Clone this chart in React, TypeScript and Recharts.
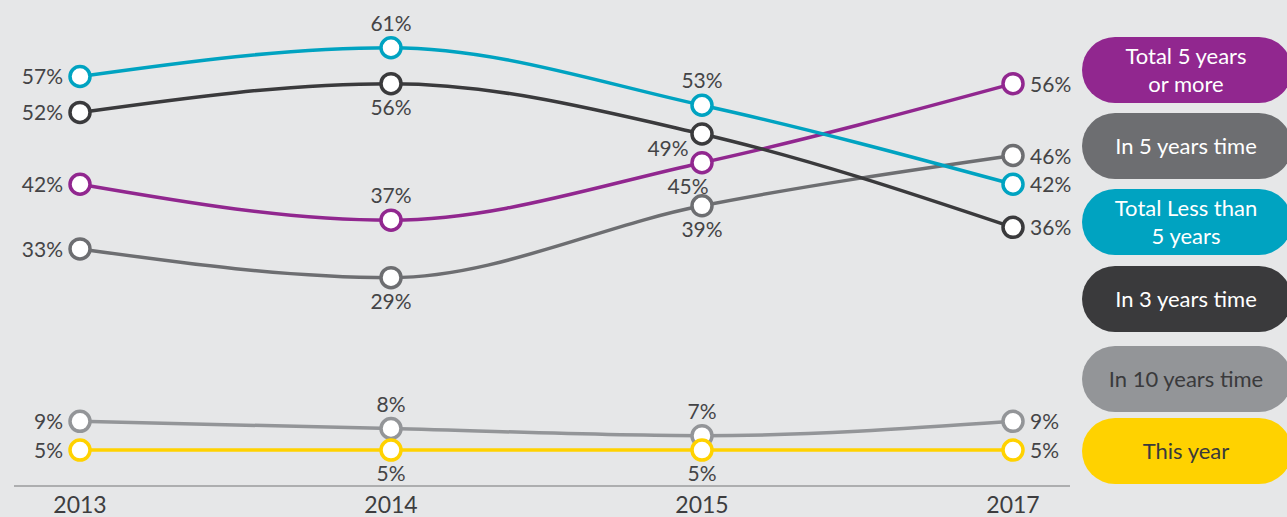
import { LineChart, Line, XAxis, YAxis } from "recharts";

const years = ["2013", "2014", "2015", "2017"];
const totalFivePlus = [42, 37, 45, 56];
const inFiveYears = [33, 29, 39, 46];
const totalLessThanFive = [57, 61, 53, 42];
const inThreeYears = [52, 56, 49, 36];
const inTenYears = [9, 8, 7, 9];
const thisYear = [5, 5, 5, 5];

const seriesNames = [
  "Total 5 years\nor more",
  "In 5 years time",
  "Total Less than\n5 years",
  "In 3 years time",
  "In 10 years time",
  "This year",
];

const series = [
  { key: "fivePlus", values: totalFivePlus, color: "#91278f", text: "#ffffff" },
  { key: "in5", values: inFiveYears, color: "#6d6e71", text: "#ffffff" },
  { key: "lessFive", values: totalLessThanFive, color: "#00a3c1", text: "#ffffff" },
  { key: "in3", values: inThreeYears, color: "#3a3a3c", text: "#ffffff" },
  { key: "in10", values: inTenYears, color: "#939598", text: "#3a3a3c" },
  { key: "now", values: thisYear, color: "#ffd200", text: "#3a3a3c" },
].map((s, i) => ({ ...s, name: seriesNames[i] }));

const data = years.map((year, i) => {
  const row: Record<string, string | number> = { year };
  series.forEach((s) => (row[s.key] = s.values[i]));
  return row;
});

// where each point's label sits, per series
const labelPos: Record<string, string[]> = {
  fivePlus: ["left", "above", "purple15", "right"],
  in5: ["left", "below", "below", "right"],
  lessFive: ["left", "above", "above", "right"],
  in3: ["left", "below", "black15", "right"],
  in10: ["left", "above", "above", "right"],
  now: ["left", "below", "below", "right"],
};

const pillTops = [37, 113, 189, 266, 346, 418];

const makeLabel = (key: string) => (props: any) => {
  const { x, y, value, index } = props;
  const pos = labelPos[key][index];
  let tx = x;
  let ty = y + 8;
  let anchor: "start" | "middle" | "end" = "middle";
  if (pos === "left") {
    tx = x - 17;
    anchor = "end";
  } else if (pos === "right") {
    tx = x + 17;
    anchor = "start";
  } else if (pos === "above") {
    ty = y - 17;
  } else if (pos === "below") {
    ty = y + 31;
  } else if (pos === "black15") {
    tx = x - 34;
    ty = y + 22;
  } else if (pos === "purple15") {
    tx = x - 14;
    ty = y + 31;
  }
  return (
    <text
      key={`${key}-${index}`}
      x={tx}
      y={ty}
      textAnchor={anchor}
      fontSize={21}
      fill="#444446"
    >
      {value}%
    </text>
  );
};

export default function App() {
  return (
    <div
      style={{
        position: "absolute",
        left: 0,
        top: 0,
        width: 1287,
        height: 517,
        overflow: "hidden",
        background: "#e6e7e8",
        fontFamily: "Lato, 'Open Sans', sans-serif",
      }}
    >
      <LineChart
        width={1287}
        height={517}
        data={data}
        margin={{ top: 19, right: 217, bottom: 0, left: 14 }}
      >
        <XAxis
          dataKey="year"
          height={31}
          padding={{ left: 66, right: 57 }}
          axisLine={{ stroke: "#9a9b9d", strokeWidth: 1.5 }}
          tickLine={false}
          tickMargin={5}
          tick={{ fontSize: 23, fill: "#3d3d3f" }}
        />
        <YAxis hide domain={[0, 65]} />
        {series.map((s) => (
          <Line
            key={s.key}
            dataKey={s.key}
            name={s.name}
            type="monotone"
            stroke={s.color}
            strokeWidth={3.5}
            dot={{ r: 10, fill: "#ffffff", stroke: s.color, strokeWidth: 3.5 }}
            activeDot={false}
            label={makeLabel(s.key)}
            isAnimationActive={false}
          />
        ))}
      </LineChart>
      {series.map((s, i) => (
        <div
          key={s.key}
          style={{
            position: "absolute",
            left: 1082,
            top: pillTops[i],
            width: 210,
            height: 66,
            borderRadius: 33,
            background: s.color,
            color: s.text,
            fontSize: 22,
            lineHeight: "28px",
            whiteSpace: "pre-line",
            textAlign: "center",
            display: "flex",
            alignItems: "center",
            justifyContent: "center",
            paddingRight: 2,
            boxSizing: "border-box",
          }}
        >
          {s.name}
        </div>
      ))}
    </div>
  );
}
